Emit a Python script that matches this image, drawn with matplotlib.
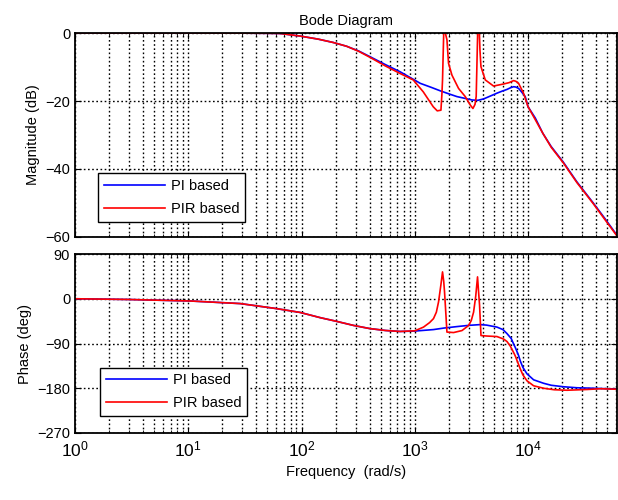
import matplotlib
matplotlib.use('Agg')
import matplotlib.pyplot as plt
from matplotlib.ticker import LogLocator, NullFormatter

plt.rcParams['font.family'] = ['Liberation Sans', 'DejaVu Sans']

# --- Magnitude data (dB) ---
freq_mag_pi = [1, 10, 30, 50, 65, 97, 140, 191, 250, 320, 404, 550, 741, 968, 1116,
               1400, 1676, 2000, 2353, 2750, 3193, 3600, 4045, 4600, 5310, 5900,
               6512, 7000, 7450, 7800, 8245, 8700, 9440, 10000, 11580, 13500, 16000,
               20480, 27000, 37640, 48000, 61000]
mag_pi = [0, 0, -0.05, -0.1, -0.15, -0.9, -1.8, -2.8, -3.9, -5.3, -7, -9.3, -11.4,
          -13.6, -14.8, -16, -17, -17.9, -18.7, -19.2, -19.7, -19.8, -19.4, -18.6,
          -17.7, -17.1, -16.6, -16.1, -15.8, -15.9, -16.3, -17.2, -18.7, -21.7, -25,
          -29.5, -33.4, -38, -43.8, -50, -54.7, -59.5]

freq_mag_pir = [1, 10, 30, 50, 65, 97, 140, 191, 250, 320, 404, 550, 741, 968, 1187,
                1455, 1578, 1701, 1735, 1757, 1800, 1830, 1860, 1922, 1985, 2128,
                2434, 2788, 3090, 3260, 3400, 3483, 3560, 3620, 3655, 3700, 3760,
                3837, 4190, 4958, 6077, 6800, 7450, 7800, 8245, 9120, 10000, 11190,
                13500, 16000, 20480, 27000, 37640, 48000, 61000]
mag_pir = [0, 0, -0.05, -0.1, -0.15, -0.9, -1.8, -2.8, -3.9, -5.4, -7.2, -9.7, -11.9,
           -13.8, -17.3, -21.7, -22.9, -22.7, -18, -13.8, 0, 14, 0, -2, -8.9, -12.4,
           -16.3, -18.7, -21.2, -22.2, -21, -18.7, -5, 5, 14, 2, -5, -9.9, -13.8,
           -15.6, -15, -14.6, -14, -14.2, -14.8, -17.7, -21.7, -24.6, -29.5, -33.6,
           -38.2, -44, -50.2, -55, -59.7]

# --- Phase data (deg) ---
freq_ph_pi = [1, 3, 10.4, 28.7, 60, 97, 146, 200, 287, 400, 550, 741, 1000, 1462,
              1800, 2353, 3000, 3784, 4300, 5310, 6000, 6512, 7100, 7450, 7710, 8245,
              8530, 9000, 9780, 11190, 13710, 16000, 20590, 27000, 37700, 50000, 61000]
ph_pi = [0, -1.5, -4.5, -9.7, -19.8, -27.5, -38, -45, -53.6, -60, -63.8, -65.8, -65,
         -62, -59, -56, -53.5, -52, -53, -57, -62, -70, -80, -91, -98, -114, -125,
         -138, -151, -163, -170, -174, -177, -179, -180, -181, -182]

freq_ph_pir = [1, 3, 10.4, 28.7, 60, 97, 146, 200, 287, 400, 550, 741, 1000, 1194,
               1350, 1462, 1550, 1620, 1700, 1757, 1800, 1830, 1880, 1922, 2198,
               2607, 2980, 3150, 3303, 3450, 3580, 3640, 3730, 3840, 4335, 5310,
               6077, 6512, 6960, 7450, 7710, 8530, 9000, 9780, 11190, 13710, 17000,
               22070, 33150, 43450, 61000]
ph_pir = [0, -1.5, -4.5, -9.7, -19.8, -27.5, -38, -45, -53.6, -60, -63.8, -65.8,
          -64.5, -57, -48, -40, -27, -6.4, 28, 54, 35, 14, -30, -67, -68, -64, -54,
          -44, -27, 5, 44, 20, -13, -74, -75, -76, -81, -86, -95, -108, -115, -141,
          -153, -165, -175, -180, -183, -184, -182.5, -181, -182]

fig = plt.figure(figsize=(6.18, 5.0), dpi=100)
ax1 = fig.add_axes([0.1214, 0.526, 0.877, 0.408])
ax2 = fig.add_axes([0.1214, 0.134, 0.877, 0.358])

ax1.plot(freq_mag_pi, mag_pi, color='#0000ff', lw=1.2, label='PI based')
ax1.plot(freq_mag_pir, mag_pir, color='#ff0000', lw=1.2, label='PIR based')
ax2.plot(freq_ph_pi, ph_pi, color='#0000ff', lw=1.2, label='PI based')
ax2.plot(freq_ph_pir, ph_pir, color='#ff0000', lw=1.2, label='PIR based')

grid_kw = dict(color='black', linestyle=(0, (1.2, 1.8)), linewidth=1.0)
for ax in (ax1, ax2):
    ax.set_xscale('log')
    ax.set_xlim(1, 6.1e4)
    ax.xaxis.set_major_locator(LogLocator(base=10, numticks=10))
    ax.xaxis.set_minor_locator(LogLocator(base=10, subs=range(2, 10), numticks=20))
    ax.xaxis.set_minor_formatter(NullFormatter())
    ax.grid(True, which='major', **grid_kw)
    ax.grid(True, which='minor', axis='x', **grid_kw)
    ax.tick_params(which='both', direction='in', top=True, right=True)
    ax.tick_params(which='major', length=4)
    ax.tick_params(which='minor', length=2)
    ax.tick_params(axis='y', labelsize=10.5)
    for sp in ax.spines.values():
        sp.set_linewidth(1.3)

ax1.set_ylim(-60, 0)
ax1.set_yticks([0, -20, -40, -60])
ax1.tick_params(axis='x', labelbottom=False)
ax1.set_ylabel('Magnitude (dB)', fontsize=10.5)
ax1.set_title('Bode Diagram', fontsize=10.5, pad=6)

ax2.set_ylim(-270, 90)
ax2.set_yticks([90, 0, -90, -180, -270])
ax2.tick_params(axis='x', labelsize=12.5, pad=5)
ax2.set_ylabel('Phase (deg)', fontsize=10.5)
ax2.set_xlabel('Frequency  (rad/s)', fontsize=10.5)

leg_kw = dict(loc='lower left', fontsize=10.5, fancybox=False, framealpha=1,
              edgecolor='black', handlelength=4.2, handletextpad=0.4,
              borderaxespad=0, labelspacing=0.6)
l1 = ax1.legend(bbox_to_anchor=(0.042, 0.074), **leg_kw)
l2 = ax2.legend(bbox_to_anchor=(0.046, 0.095), **leg_kw)
for leg in (l1, l2):
    leg.get_frame().set_linewidth(1.0)

fig.savefig('out.png', dpi=100)
